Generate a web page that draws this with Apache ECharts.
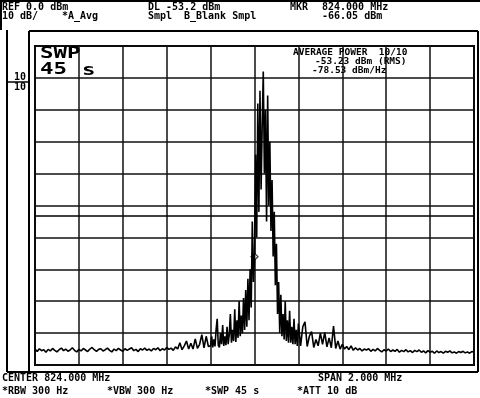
<!DOCTYPE html>
<html>
<head>
<meta charset="utf-8">
<script src="https://cdn.jsdelivr.net/npm/echarts@6/dist/echarts.min.js"></script>
<style>
html,body{margin:0;padding:0;background:#fff;}
#c{width:480px;height:398px;}
</style>
</head>
<body>
<div id="c"></div>
<script>
// ---- data ----
const startMHz = 823.0;      // CENTER 824.000 MHz, SPAN 2.000 MHz
const stopMHz = 825.0;
const refLevel = 0;          // REF 0.0 dBm
const bottomLevel = -100;    // 10 dB/div
// left skirt: 823.00 .. 823.79 MHz, 0.01 MHz steps
const leftStartMHz = 823.00, leftStepMHz = 0.01;
const traceLeft = [
 -95.0,-95.8,-94.9,-95.5,-95.2,-96.0,-95.1,-95.6,-94.8,-95.4,
 -95.9,-95.2,-94.7,-95.5,-95.0,-95.7,-95.3,-94.6,-95.4,-95.9,
 -95.1,-95.6,-94.8,-95.3,-95.8,-95.0,-94.5,-95.2,-95.7,-95.1,
 -94.9,-95.6,-95.2,-94.7,-95.4,-95.9,-95.0,-95.5,-94.8,-95.3,
 -95.7,-94.9,-95.4,-95.0,-94.6,-95.5,-95.1,-95.8,-94.9,-95.3,
 -94.7,-95.4,-95.0,-95.6,-94.8,-95.2,-94.6,-95.5,-94.9,-95.3,
 -94.5,-95.1,-94.7,-95.4,-94.3,-95.0,-93.0,-95.2,-94.0,-92.5,
 -95.0,-93.2,-95.0,-91.8,-94.8,-93.5,-90.5,-94.6,-91.0,-94.2
];
// centre: 823.800 .. 824.200 MHz, 0.005 MHz steps
const centerStartMHz = 823.80, centerStepMHz = 0.005;
const traceCenter = [
 -94.0,-91.0,-94.5,-92.0,-94.2,-89.0,-85.5,-93.8,-94.5,-90.0,
 -93.5,-87.5,-94.0,-91.0,-93.8,-88.0,-93.5,-90.5,-84.0,-93.0,
 -89.0,-92.5,-82.5,-92.8,-86.0,-91.5,-80.0,-91.0,-84.5,-90.0,
 -79.0,-89.0,-76.5,-88.0,-73.0,-86.0,-70.0,-82.0,-55.0,-74.0,
 -66.05,-34.0,-60.0,-18.0,-52.0,-14.0,-45.0,-25.0,-8.0,-40.0,
 -20.0,-55.0,-15.5,-50.0,-30.0,-58.0,-42.0,-66.0,-52.0,-75.0,
 -62.0,-84.0,-74.0,-90.0,-78.0,-91.0,-84.0,-92.0,-80.0,-92.5,
 -86.0,-93.0,-83.0,-93.0,-88.0,-93.5,-85.5,-93.5,-89.0,-94.0,
 -87.0
];
// right skirt: 824.21 .. 825.00 MHz, 0.01 MHz steps
const rightStartMHz = 824.21, rightStepMHz = 0.01;
const traceRight = [
 -94.0,-88.0,-86.5,-94.2,-91.0,-89.5,-94.5,-92.0,-94.0,-90.0,
 -93.5,-89.8,-94.3,-91.5,-94.6,-87.8,-94.8,-92.5,-95.0,-93.5,
 -95.0,-94.2,-95.2,-94.0,-95.4,-94.6,-95.3,-94.8,-95.6,-95.0,
 -95.3,-94.9,-95.7,-95.1,-95.6,-94.8,-95.4,-95.9,-95.2,-95.6,
 -95.0,-95.8,-95.3,-95.7,-95.1,-96.0,-95.4,-95.8,-95.2,-95.9,
 -95.5,-96.1,-95.4,-95.8,-95.3,-96.0,-95.6,-96.2,-95.5,-96.0,
 -95.7,-96.3,-95.6,-96.1,-95.8,-96.3,-95.7,-96.0,-95.6,-96.2,
 -95.9,-96.3,-95.8,-96.1,-95.7,-96.2,-95.9,-96.3,-95.8,-96.0
];
const markerFreq = [824.000];
const markerDbm = [-66.05];
const displayLine = -53.2;
const headerRow1 = ["REF 0.0 dBm", "DL -53.2 dBm", "MKR", "824.000 MHz"];
const headerRow2 = ["10 dB/", "*A_Avg", "Smpl", "B_Blank Smpl", "-66.05 dBm"];
const footerRow1 = ["CENTER 824.000 MHz", "SPAN 2.000 MHz"];
const footerRow2 = ["*RBW 300 Hz", "*VBW 300 Hz", "*SWP 45 s", "*ATT 10 dB"];
const powerText = ["AVERAGE POWER  10/10", "-53.23 dBm (RMS)", "-78.53 dBm/Hz"];
const swpText = ["SWP", "45", "s"];
const scaleMarks = ["10", "10"];

// ---- build ----
function seg(arr, f0, df) { return arr.map((v, i) => [+(f0 + i * df).toFixed(4), v]); }
const tracePts = [].concat(
  seg(traceLeft, leftStartMHz, leftStepMHz),
  seg(traceCenter, centerStartMHz, centerStepMHz),
  seg(traceRight, rightStartMHz, rightStepMHz)
);
const markerPts = markerFreq.map((f, i) => [f, markerDbm[i]]);

const F = '"DejaVu Sans Mono", monospace';
function txt(x, y, s, size, sx) {
  return { type: 'text', x: x, y: y, scaleX: sx || 1, z: 10,
    style: { text: s, font: 'bold ' + size + 'px ' + F, fill: '#000', verticalAlign: 'middle' } };
}
function ln(x1, y1, x2, y2, w) {
  return { type: 'line', z: 10, shape: { x1, y1, x2, y2 }, style: { stroke: '#000', lineWidth: w || 1.5 } };
}

const chart = echarts.init(document.getElementById('c'), null, { renderer: 'canvas' });
chart.setOption({
  animation: false,
  backgroundColor: '#fff',
  grid: { left: 35, right: 6, top: 46, bottom: 33, show: true, borderColor: '#000', borderWidth: 2 },
  xAxis: {
    type: 'value', min: startMHz, max: stopMHz, interval: 0.2,
    axisLine: { show: false }, axisTick: { show: false }, axisLabel: { show: false },
    splitLine: { show: true, lineStyle: { color: '#111', width: 1.5 } }
  },
  yAxis: {
    type: 'value', min: bottomLevel, max: refLevel, interval: 10,
    axisLine: { show: false }, axisTick: { show: false }, axisLabel: { show: false },
    splitLine: { show: true, lineStyle: { color: '#111', width: 1.5 } }
  },
  series: [
    {
      type: 'line', data: tracePts, showSymbol: false, symbol: 'none',
      lineStyle: { color: '#000', width: 1.6 },
      markLine: {
        silent: true, symbol: 'none', label: { show: false },
        lineStyle: { color: '#000', width: 1.5, type: 'solid' },
        data: [{ yAxis: displayLine }]
      }
    },
    {
      type: 'scatter', data: markerPts, symbol: 'diamond', symbolSize: 7,
      itemStyle: { color: '#fff', borderColor: '#000', borderWidth: 1.2 }
    }
  ],
  graphic: [
    // frames
    ln(0, 1, 480, 1, 2),
    ln(1, 0, 1, 30, 2),
    ln(29, 31, 478, 31, 2),
    ln(29, 31, 29, 372, 2),
    ln(478, 31, 478, 372, 2),
    ln(7, 372, 478, 372, 2),
    ln(7, 30, 7, 372, 2),
    ln(7, 82, 29, 82, 1.5),
    // header
    txt(2, 7, headerRow1[0], 10),
    txt(148, 7, headerRow1[1], 10),
    txt(290, 7, headerRow1[2], 10),
    txt(322, 7, headerRow1[3], 10),
    txt(2, 16, headerRow2[0], 10),
    txt(62, 16, headerRow2[1], 10),
    txt(148, 16, headerRow2[2], 10),
    txt(184, 16, headerRow2[3], 10),
    txt(322, 16, headerRow2[4], 10),
    // left scale marks
    txt(14, 77, scaleMarks[0], 10),
    txt(14, 87, scaleMarks[1], 10),
    // sweep annotation
    txt(40, 54, swpText[0], 16, 1.4),
    txt(40, 70, swpText[1], 16, 1.4),
    txt(82, 71, swpText[2], 16, 1.4),
    // power readout
    txt(293, 53, powerText[0], 9.5),
    txt(315, 62, powerText[1], 9.5),
    txt(312, 71, powerText[2], 9.5),
    // footer
    txt(2, 378, footerRow1[0], 10),
    txt(318, 378, footerRow1[1], 10),
    txt(2, 391, footerRow2[0], 10),
    txt(107, 391, footerRow2[1], 10),
    txt(205, 391, footerRow2[2], 10),
    txt(297, 391, footerRow2[3], 10)
  ]
});
</script>
</body>
</html>
